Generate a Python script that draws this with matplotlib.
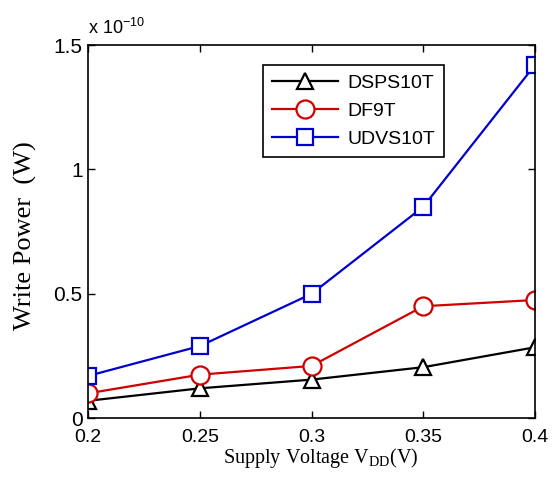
import matplotlib
matplotlib.use("Agg")
import matplotlib.pyplot as plt

# supply voltage (V) and write power in units of 1e-10 W
vdd = [0.2, 0.25, 0.3, 0.35, 0.4]
dsps10t = [0.07, 0.12, 0.155, 0.205, 0.285]
df9t = [0.10, 0.175, 0.21, 0.45, 0.475]
udvs10t = [0.17, 0.29, 0.50, 0.85, 1.42]

fig = plt.figure(figsize=(5.55, 4.84), dpi=100)
ax = fig.add_axes([0.159, 0.136, 0.805, 0.771])

ax.plot(vdd, dsps10t, color="black", lw=1.6, marker="^", ms=12, mfc="white", mew=1.6, label="DSPS10T")
ax.plot(vdd, df9t, color="#d00000", lw=1.6, marker="o", ms=13, mfc="white", mew=1.6, label="DF9T")
ax.plot(vdd, udvs10t, color="#0000d0", lw=1.6, marker="s", ms=12, mfc="white", mew=1.6, label="UDVS10T")

ax.set_xlim(0.2, 0.4)
ax.set_ylim(0, 1.5)
ax.set_xticks(vdd)
ax.set_xticklabels(["0.2", "0.25", "0.3", "0.35", "0.4"])
ax.set_yticks([0, 0.5, 1, 1.5])
ax.set_yticklabels(["0", "0.5", "1", "1.5"])
ax.tick_params(direction="in", top=True, right=True, length=5, width=1, labelsize=14)
ax.tick_params(axis="x", pad=8)
ax.tick_params(axis="y", pad=4, labelsize=15)
for lab in ax.get_xticklabels() + ax.get_yticklabels():
    lab.set_family("Liberation Sans")
for s in ax.spines.values():
    s.set_linewidth(1.2)

ax.text(0.0, 1.02, r"x 10$^{\mathregular{-10}}$", transform=ax.transAxes,
        fontsize=13, family="Liberation Sans", va="bottom", ha="left")

ax.set_xlabel(r"Supply Voltage V$_{\mathregular{DD}}$(V)", family="Liberation Serif", fontsize=14.5)
ax.xaxis.set_label_coords(0.52, -0.075)
ax.set_ylabel("Write Power  (W)", family="Liberation Serif", fontsize=19)
ax.yaxis.set_label_coords(-0.115, 0.49)

leg = ax.legend(loc="upper left", bbox_to_anchor=(0.391, 0.946), borderaxespad=0, fancybox=False,
                framealpha=1, edgecolor="black", prop={"family": "Liberation Sans", "size": 14},
                handlelength=3.4, borderpad=0.45, labelspacing=0.55, handletextpad=0.5)
leg.get_frame().set_linewidth(1.2)

fig.savefig("out.png", dpi=100)
